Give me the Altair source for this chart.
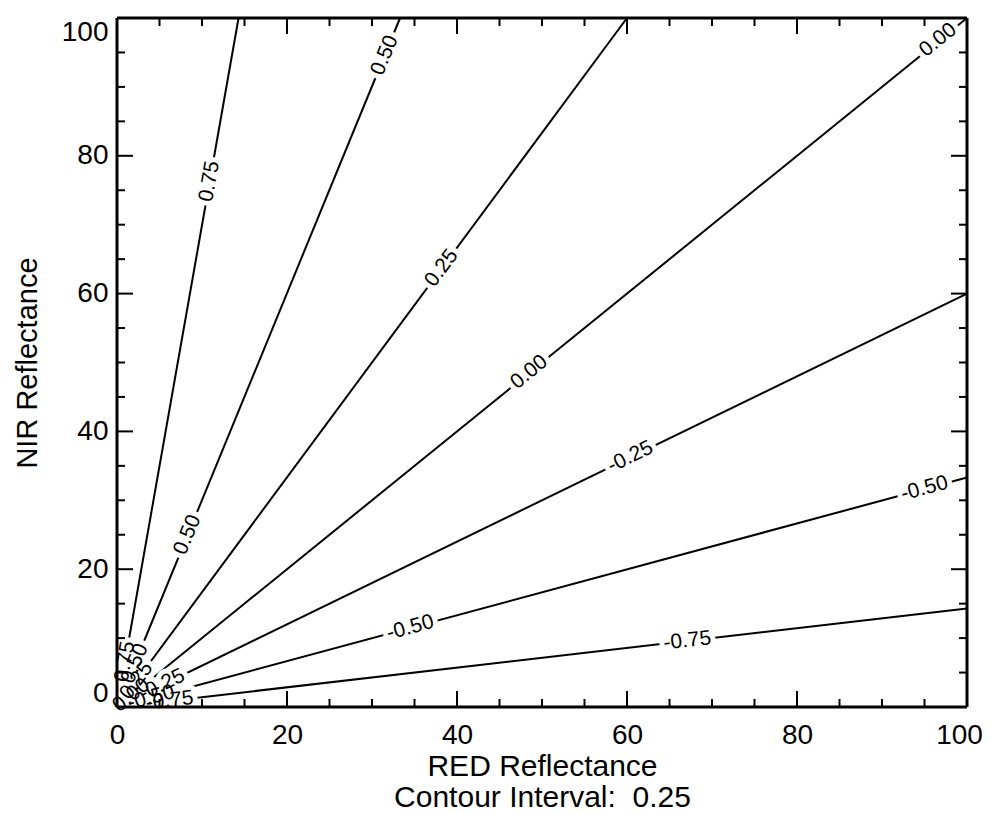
import math
import altair as alt
import pandas as pd

# ---- data ----
levels = [0.75, 0.50, 0.25, 0.00, -0.25, -0.50, -0.75]
end_red = [14.3, 33.3, 60.0, 100.0, 100.0, 100.0, 100.0]
end_nir = [100.0, 100.0, 100.0, 100.0, 60.0, 33.3, 14.3]

label_level = [0.75, 0.50, 0.50, 0.25, 0.00, 0.00, -0.25, -0.50, -0.50, -0.75,
               0.75, 0.50, 0.25, 0.00, -0.25, -0.50, -0.75]
label_red = [10.9, 31.5, 8.3, 38.2, 48.5, 96.6, 60.4, 34.5, 95.0, 67.1,
             0.95, 2.1, 2.3, 1.7, 5.3, 4.0, 6.2]
label_nir = [76.3, 94.6, 25.0, 63.7, 48.6, 96.8, 36.3, 11.5, 31.7, 9.6,
             6.6, 6.3, 3.8, 1.7, 3.2, 1.33, 0.9]

major_ticks = [0, 20, 40, 60, 80, 100]
minor_ticks = [5, 10, 15, 25, 30, 35, 45, 50, 55, 65, 70, 75, 85, 90, 95]

x_title = ["RED Reflectance", "Contour Interval:\u00a0 0.25\u00a0\u00a0\u00a0"]
y_title = "NIR Reflectance"

# ---- layout / style ----
W, H = 850, 689
FONT = "Liberation Sans"
MAJOR_LEN, MINOR_LEN = 16, 8
LAB_SIZE = 21

# lines
rows = []
for lv, ex, ey in zip(levels, end_red, end_nir):
    rows.append({"level": lv, "red": 0.0, "nir": 0.0, "o": 0})
    rows.append({"level": lv, "red": ex, "nir": ey, "o": 1})
line_df = pd.DataFrame(rows)

# labels
ends = {lv: (ex, ey) for lv, ex, ey in zip(levels, end_red, end_nir)}
lab_rows = []
for lv, rx, ny in zip(label_level, label_red, label_nir):
    ex, ey = ends[lv]
    theta = math.degrees(math.atan2(ey * H / 100.0, ex * W / 100.0))
    lab_rows.append({"text": f"{lv:.2f}", "red": rx, "nir": ny,
                     "angle": (360.0 - theta) % 360.0})
label_df = pd.DataFrame(lab_rows)

# ticks
t_rows = []
for v in major_ticks + minor_ticks:
    L = MAJOR_LEN if v in major_ticks else MINOR_LEN
    ly = L / (H / 100.0)
    lx = L / (W / 100.0)
    t_rows.append({"v": v, "zero": 0.0, "hundred": 100.0,
                   "bot_end": ly, "top_end": 100.0 - ly,
                   "left_end": lx, "right_end": 100.0 - lx})
tick_df = pd.DataFrame(t_rows)

xs = alt.Scale(domain=[0, 100], nice=False, zero=False)
ys = alt.Scale(domain=[0, 100], nice=False, zero=False)

x_axis = alt.Axis(values=major_ticks, ticks=False, domain=False, grid=False,
                  labelFont=FONT, labelFontSize=28, labelColor="black",
                  labelPadding=14, labelAngle=0, labelFlush=False,
                  labelOffset={"condition": {"test": "datum.value === 100", "value": -8},
                               "value": 0},
                  title=x_title, titleFont=FONT, titleFontSize=30,
                  titleFontWeight="normal", titleColor="black",
                  titleX=W / 2, titleY=68, titleAlign="center",
                  titleBaseline="alphabetic", titleLineHeight=31)
y_axis = alt.Axis(values=major_ticks, ticks=False, domain=False, grid=False,
                  labelFont=FONT, labelFontSize=28, labelColor="black",
                  labelPadding=9, labelFlush=True,
                  title=y_title, titleFont=FONT, titleFontSize=29,
                  titleFontWeight="normal", titleColor="black",
                  titleX=-90, titleY=H / 2, titleAngle=270,
                  titleAlign="center", titleBaseline="middle")


def X(field):
    return alt.X(field, scale=xs, axis=x_axis)


def Y(field):
    return alt.Y(field, scale=ys, axis=y_axis)


lines = alt.Chart(line_df).mark_line(color="black", strokeWidth=2).encode(
    x=X("red:Q"), y=Y("nir:Q"), detail="level:N", order="o:Q",
)

halo = alt.Chart(label_df).mark_text(
    font=FONT, fontSize=LAB_SIZE, fill="white", stroke="white", strokeWidth=10,
    strokeJoin="round", align="center", baseline="middle"
).encode(
    x=X("red:Q"), y=Y("nir:Q"), text="text:N",
    angle=alt.Angle("angle:Q", scale=None),
)

labels = alt.Chart(label_df).mark_text(
    font=FONT, fontSize=LAB_SIZE, color="black", align="center", baseline="middle"
).encode(
    x=X("red:Q"), y=Y("nir:Q"), text="text:N",
    angle=alt.Angle("angle:Q", scale=None),
)

tb = alt.Chart(tick_df).mark_rule(color="black", strokeWidth=2)
bottom_ticks = tb.encode(x=X("v:Q"), y=Y("zero:Q"), y2="bot_end:Q")
top_ticks = tb.encode(x=X("v:Q"), y=Y("hundred:Q"), y2="top_end:Q")
left_ticks = tb.encode(y=Y("v:Q"), x=X("zero:Q"), x2="left_end:Q")
right_ticks = tb.encode(y=Y("v:Q"), x=X("hundred:Q"), x2="right_end:Q")

fr = alt.Chart(pd.DataFrame({"k": [0]})).mark_rule(color="black", strokeWidth=3)
frame_l = fr.encode(x=alt.value(0), y=alt.value(0), y2=alt.value(H))
frame_r = fr.encode(x=alt.value(W), y=alt.value(0), y2=alt.value(H))
frame_t = fr.encode(y=alt.value(0), x=alt.value(0), x2=alt.value(W))
frame_b = fr.encode(y=alt.value(H), x=alt.value(0), x2=alt.value(W))

chart = alt.layer(
    lines, halo, labels,
    bottom_ticks, top_ticks, left_ticks, right_ticks,
    frame_l, frame_r, frame_t, frame_b,
).properties(
    width=W, height=H,
    autosize=alt.AutoSizeParams(type="none"),
    padding={"left": 109, "top": 10, "right": 16, "bottom": 104},
    background="white",
).configure_view(stroke=None)

chart.save("out.html", embed_options={"renderer": "svg", "actions": False})
